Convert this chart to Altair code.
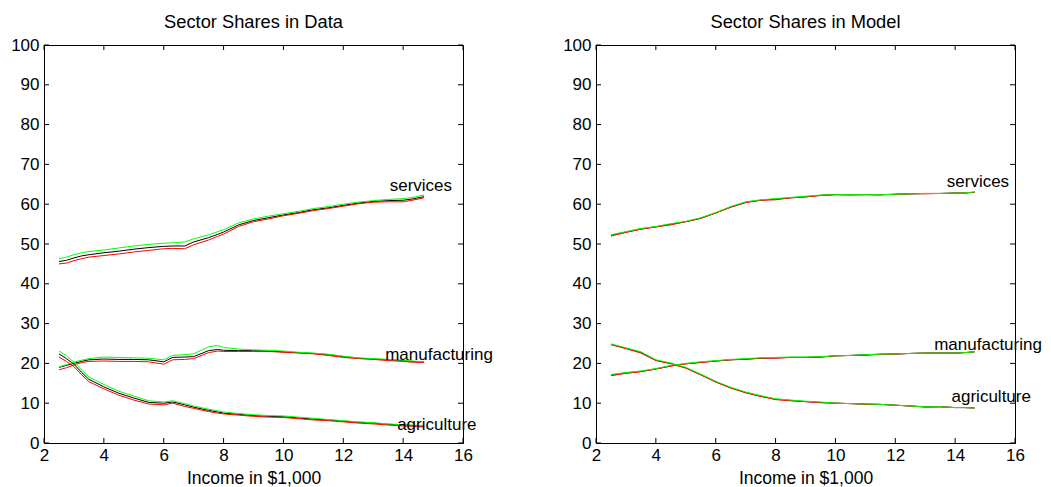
import altair as alt
import pandas as pd

# ---------------- data: left panel (Data) ----------------
x_data = [2.5, 2.75, 3, 3.25, 3.5, 4, 4.5, 5, 5.5, 6, 6.3, 6.7, 7, 7.5, 7.8,
          8, 8.5, 9, 9.5, 10, 10.5, 11, 11.5, 12, 12.5, 13, 13.5, 14, 14.3, 14.7]

serv_data_black = [45.6, 45.9, 46.5, 47.0, 47.3, 47.8, 48.2, 48.7, 49.1, 49.4, 49.5, 49.5, 50.5, 51.6, 52.4,
                   53.0, 54.8, 55.9, 56.6, 57.3, 57.9, 58.6, 59.1, 59.7, 60.3, 60.7, 60.9, 61.0, 61.3, 61.9]
serv_data_red = [45.0, 45.2, 45.8, 46.3, 46.7, 47.1, 47.5, 48.0, 48.4, 48.8, 48.9, 48.8, 49.8, 51.0, 51.9,
                 52.5, 54.4, 55.6, 56.3, 57.1, 57.7, 58.4, 58.9, 59.5, 60.1, 60.5, 60.6, 60.6, 61.0, 61.6]
serv_data_green = [46.3, 46.7, 47.3, 47.8, 48.1, 48.5, 49.0, 49.5, 49.9, 50.2, 50.3, 50.5, 51.3, 52.3, 53.1,
                   53.6, 55.3, 56.3, 57.0, 57.6, 58.2, 58.9, 59.4, 60.0, 60.5, 60.9, 61.2, 61.4, 61.7, 62.3]

manu_data_black = [19.0, 19.5, 20.0, 20.5, 20.9, 21.1, 21.0, 21.0, 20.9, 20.4, 21.5, 21.6, 21.7, 23.2, 23.5,
                   23.3, 23.2, 23.2, 23.1, 22.9, 22.7, 22.5, 22.2, 21.7, 21.3, 21.1, 20.9, 20.7, 20.5, 20.4]
manu_data_red = [18.4, 18.9, 19.6, 20.2, 20.5, 20.6, 20.5, 20.5, 20.4, 19.8, 20.9, 21.0, 21.2, 22.7, 23.1,
                 23.0, 23.0, 23.0, 23.0, 22.8, 22.6, 22.4, 22.0, 21.5, 21.2, 21.0, 20.7, 20.5, 20.3, 20.2]
manu_data_green = [19.1, 19.7, 20.3, 20.8, 21.2, 21.6, 21.5, 21.4, 21.3, 20.9, 22.0, 22.2, 22.4, 24.2, 24.5,
                   24.0, 23.6, 23.4, 23.3, 23.1, 22.8, 22.6, 22.3, 21.8, 21.4, 21.2, 21.0, 20.8, 20.6, 20.4]

agri_data_black = [22.4, 21.2, 19.8, 17.8, 16.0, 14.1, 12.5, 11.3, 10.2, 10.0, 10.3, 9.6, 9.0, 8.2, 7.8,
                   7.5, 7.2, 6.9, 6.7, 6.6, 6.3, 6.0, 5.8, 5.5, 5.2, 5.0, 4.7, 4.5, 4.4, 4.2]
agri_data_red = [21.6, 20.5, 19.2, 17.2, 15.4, 13.6, 12.0, 10.8, 9.8, 9.6, 10.0, 9.2, 8.7, 7.9, 7.5,
                 7.3, 7.0, 6.7, 6.5, 6.4, 6.1, 5.8, 5.6, 5.3, 5.0, 4.8, 4.5, 4.3, 4.2, 4.0]
agri_data_green = [23.1, 21.9, 20.3, 18.4, 16.6, 14.7, 13.0, 11.8, 10.6, 10.3, 10.6, 9.9, 9.3, 8.5, 8.1,
                   7.8, 7.4, 7.1, 6.9, 6.8, 6.5, 6.2, 5.9, 5.6, 5.3, 5.1, 4.8, 4.6, 4.5, 4.4]

# ---------------- data: right panel (Model) ----------------
x_model = [2.5, 3, 3.5, 4, 4.5, 5, 5.5, 6, 6.5, 7, 7.5, 8, 8.5, 9, 9.5, 10, 10.5,
           11, 11.5, 12, 12.5, 13, 13.5, 14, 14.3, 14.65]

serv_model_black = [52.2, 53.0, 53.8, 54.3, 55.0, 55.6, 56.5, 57.8, 59.3, 60.5, 61.0, 61.3, 61.6,
                    61.9, 62.2, 62.4, 62.4, 62.4, 62.4, 62.5, 62.6, 62.7, 62.7, 62.8, 62.8, 63.0]
serv_model_red = [52.0, 52.9, 53.7, 54.3, 54.8, 55.6, 56.4, 57.8, 59.2, 60.4, 61.0, 61.1, 61.6,
                  61.8, 62.2, 62.4, 62.3, 62.4, 62.3, 62.5, 62.6, 62.6, 62.7, 62.8, 62.8, 63.0]
serv_model_green = [52.3, 53.1, 53.9, 54.4, 55.1, 55.7, 56.6, 57.9, 59.4, 60.6, 61.1, 61.4, 61.7,
                    62.0, 62.3, 62.4, 62.4, 62.4, 62.4, 62.5, 62.6, 62.7, 62.7, 62.8, 62.8, 63.1]

manu_model_black = [17.1, 17.6, 18.0, 18.6, 19.4, 19.9, 20.3, 20.6, 20.9, 21.1, 21.3, 21.4, 21.5,
                    21.5, 21.6, 21.9, 22.0, 22.2, 22.3, 22.4, 22.5, 22.6, 22.6, 22.6, 22.7, 22.9]
manu_model_red = [16.9, 17.5, 17.9, 18.6, 19.3, 19.9, 20.2, 20.6, 20.9, 21.0, 21.3, 21.3, 21.5,
                  21.5, 21.6, 21.9, 22.0, 22.0, 22.3, 22.3, 22.5, 22.6, 22.6, 22.6, 22.7, 22.9]
manu_model_green = [17.2, 17.7, 18.1, 18.7, 19.5, 20.0, 20.4, 20.7, 21.0, 21.2, 21.4, 21.5, 21.6,
                    21.6, 21.7, 21.9, 22.0, 22.2, 22.3, 22.4, 22.5, 22.6, 22.6, 22.6, 22.7, 22.9]

agri_model_black = [24.8, 23.8, 22.8, 20.8, 20.0, 18.9, 17.2, 15.4, 13.9, 12.7, 11.8, 11.0, 10.7,
                    10.4, 10.2, 10.0, 9.9, 9.8, 9.7, 9.5, 9.3, 9.1, 9.1, 8.9, 8.9, 8.8]
agri_model_red = [24.7, 23.7, 22.6, 20.7, 19.9, 18.8, 17.1, 15.3, 13.8, 12.6, 11.7, 10.9, 10.6,
                  10.4, 10.1, 10.0, 9.9, 9.7, 9.7, 9.5, 9.3, 9.0, 9.1, 8.9, 8.9, 8.8]
agri_model_green = [24.9, 23.9, 22.9, 20.9, 20.1, 19.0, 17.3, 15.5, 14.0, 12.8, 11.9, 11.1, 10.8,
                    10.5, 10.3, 10.0, 9.9, 9.8, 9.7, 9.5, 9.3, 9.1, 9.1, 8.9, 8.9, 8.8]

# ---------------- annotations & ticks ----------------
label_text = ["services", "manufacturing", "agriculture"]
label_x_data = [13.55, 13.4, 13.8]
label_y_data = [64.5, 22.0, 4.6]
label_x_model = [13.72, 13.3, 13.88]
label_y_model = [65.6, 24.7, 11.6]

x_ticks = [2, 4, 6, 8, 10, 12, 14, 16]
y_ticks = [0, 10, 20, 30, 40, 50, 60, 70, 80, 90, 100]

line_colors = {"black": "#000000", "red": "#FF0000", "green": "#00FF00"}

W, H = 419, 398
FONT = "Liberation Sans"


def build_df(xs, series):
    rows = []
    for (sector, line), vals in series.items():
        for xv, yv in zip(xs, vals):
            rows.append({"x": xv, "v": yv, "sector": sector, "line": line})
    return pd.DataFrame(rows)


def panel(title, xs, series, lx, ly):
    df = build_df(xs, series)
    xscale = alt.Scale(domain=[2, 16], nice=False, zero=False)
    yscale = alt.Scale(domain=[0, 100], nice=False, zero=False)
    xaxis = alt.Axis(values=x_ticks, ticks=False, grid=False, title="Income in $1,000",
                     labelPadding=4, titlePadding=6, labelOverlap=False, labelFlush=False)
    yaxis = alt.Axis(values=y_ticks, ticks=False, grid=False, title=None, labelPadding=5,
                     labelOverlap=False, labelFlush=False)

    layers = []
    for ln in ["black", "red", "green"]:
        layers.append(
            alt.Chart(df).transform_filter(alt.datum.line == ln)
            .mark_line(color=line_colors[ln], strokeWidth=1)
            .encode(x=alt.X("x:Q", scale=xscale, axis=xaxis),
                    y=alt.Y("v:Q", scale=yscale, axis=yaxis),
                    detail="sector:N", order="x:Q")
        )
    lab = pd.DataFrame({"t": label_text, "x": lx, "y": ly})
    layers.append(
        alt.Chart(lab).mark_text(align="left", baseline="middle", font=FONT, fontSize=17, color="#000000")
        .encode(x=alt.X("x:Q", scale=xscale, axis=xaxis), y=alt.Y("y:Q", scale=yscale, axis=yaxis),
                text="t:N")
    )
    xt = pd.DataFrame({"x": x_ticks})
    yt = pd.DataFrame({"y": y_ticks})
    tick_style = dict(color="#000000", strokeWidth=1)
    layers.append(alt.Chart(xt).mark_rule(**tick_style).encode(
        x=alt.X("x:Q", scale=xscale, axis=xaxis), y=alt.value(H), y2=alt.value(H - 5)))
    layers.append(alt.Chart(xt).mark_rule(**tick_style).encode(
        x=alt.X("x:Q", scale=xscale, axis=xaxis), y=alt.value(0), y2=alt.value(5)))
    layers.append(alt.Chart(yt).mark_rule(**tick_style).encode(
        y=alt.Y("y:Q", scale=yscale, axis=yaxis), x=alt.value(0), x2=alt.value(5)))
    layers.append(alt.Chart(yt).mark_rule(**tick_style).encode(
        y=alt.Y("y:Q", scale=yscale, axis=yaxis), x=alt.value(W - 5), x2=alt.value(W)))
    return alt.layer(*layers).properties(
        width=W, height=H,
        title=alt.TitleParams(title, fontSize=18.3, font=FONT, fontWeight="normal",
                              anchor="middle", offset=3.5, color="#000000"))


left = panel("Sector Shares in Data", x_data, {
    ("services", "black"): serv_data_black, ("services", "red"): serv_data_red,
    ("services", "green"): serv_data_green,
    ("manufacturing", "black"): manu_data_black, ("manufacturing", "red"): manu_data_red,
    ("manufacturing", "green"): manu_data_green,
    ("agriculture", "black"): agri_data_black, ("agriculture", "red"): agri_data_red,
    ("agriculture", "green"): agri_data_green,
}, label_x_data, label_y_data)

right = panel("Sector Shares in Model", x_model, {
    ("services", "black"): serv_model_black, ("services", "red"): serv_model_red,
    ("services", "green"): serv_model_green,
    ("manufacturing", "black"): manu_model_black, ("manufacturing", "red"): manu_model_red,
    ("manufacturing", "green"): manu_model_green,
    ("agriculture", "black"): agri_model_black, ("agriculture", "red"): agri_model_red,
    ("agriculture", "green"): agri_model_green,
}, label_x_model, label_y_model)

chart = (
    alt.hconcat(left, right, spacing=133, bounds="flush")
    .properties(padding={"left": 2, "top": 4, "right": 0, "bottom": 0}, background="white")
    .configure_view(stroke="#000000", strokeWidth=1)
    .configure_axis(domainColor="#000000", domainWidth=1, labelColor="#000000", labelFont=FONT,
                    labelFontSize=17, titleFont=FONT, titleFontSize=17.5, titleFontWeight="normal",
                    titleColor="#000000", labelOverlap=False, labelFlush=False)
)

chart.save("out.html", embed_options={"renderer": "svg", "actions": False})
